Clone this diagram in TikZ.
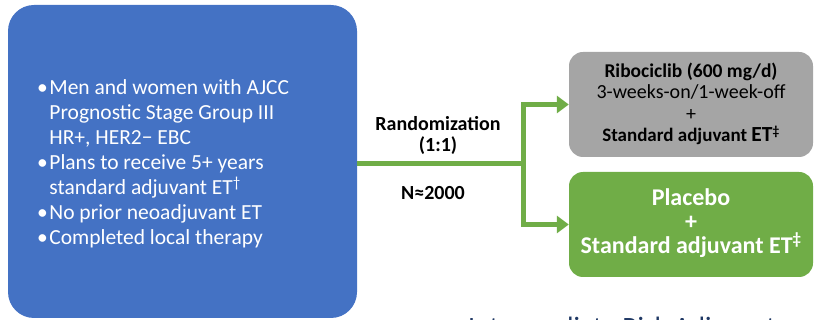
\documentclass[tikz,border=0pt]{standalone}
\usepackage{fontspec}
\setmainfont{Carlito}
\usetikzlibrary{arrows.meta}

\definecolor{patblue}{HTML}{4472C4}
\definecolor{armgray}{HTML}{A5A5A5}
\definecolor{armgreen}{HTML}{70AD47}
\definecolor{navytext}{HTML}{1F3864}

\begin{document}
\begin{tikzpicture}[x=1pt,y=-1pt]
            % Page frame
            \useasboundingbox (0,0) rectangle (817,320);
            \clip (0,0) rectangle (817,320);
            % Eligibility box on the left
            \node[fill=patblue, rounded corners=26pt, minimum width=349pt, minimum height=313pt, inner sep=0pt] (pat) at (182.5,161.5) {};
            \node[anchor=west, align=left, text=white, inner sep=0pt,
                  font=\fontsize{21.5}{25}\selectfont] (crit) at (37,164)
                {•\kern1.5pt Men and women with AJCC\\
                 \hphantom{•\kern1.5pt}Prognostic Stage Group III\\
                 \hphantom{•\kern1.5pt}HR+, HER2− EBC\\
                 •\kern1.5pt Plans to receive 5+ years\\
                 \hphantom{•\kern1.5pt}standard adjuvant ET\textsuperscript{†}\\
                 •\kern1.5pt No prior neoadjuvant ET\\
                 •\kern1.5pt Completed local therapy};
            % Treatment arms
            \node[fill=armgray, rounded corners=14pt, minimum width=244pt, minimum height=105pt, inner sep=0pt] (arm1) at (691,104.5) {};
            \node[align=center, font=\fontsize{20}{21.5}\selectfont] (arm1txt) at (691,104)
                {\textbf{\fontsize{19.5}{21.5}\selectfont Ribociclib (600 mg/d)}\\
                 3-weeks-on/1-week-off\\
                 +\\
                 \textbf{\fontsize{19}{21.5}\selectfont Standard adjuvant {\fontsize{21.5}{21.5}\selectfont ET}\textsuperscript{‡}}};
            \node[fill=armgreen, rounded corners=14pt, minimum width=244pt, minimum height=105pt, inner sep=0pt] (arm2) at (691,224.5) {};
            \node[align=center, text=white, font=\bfseries\fontsize{24}{24}\selectfont] (arm2txt) at (691,223)
                {Placebo\\
                 +\\
                 Standard adjuvant ET\textsuperscript{‡}};
            % Randomization split
            \coordinate (split) at (523,164);
            \draw[armgreen, line width=5pt] (pat.east |- split) -- (split);
            \draw[armgreen, line width=5pt, -{Triangle[length=12pt,width=17pt]}] (split) |- (arm1.west);
            \draw[armgreen, line width=5pt, -{Triangle[length=12pt,width=17pt]}] (split) |- (arm2.west);
            \node[align=center, font=\bfseries\fontsize{20}{21}\selectfont] (rand) at (438,135) {Randomization\\(1:1)};
            \node[font=\bfseries\fontsize{20}{21}\selectfont] (nsize) at (433,193) {N≈2000};
            % Title line running off the bottom
            \node[anchor=base west, text=navytext, inner sep=0pt, font=\fontsize{28}{30}\selectfont] (title) at (468,337) {Intermediate Risk Adjuvant};
        \end{tikzpicture}
\end{document}
